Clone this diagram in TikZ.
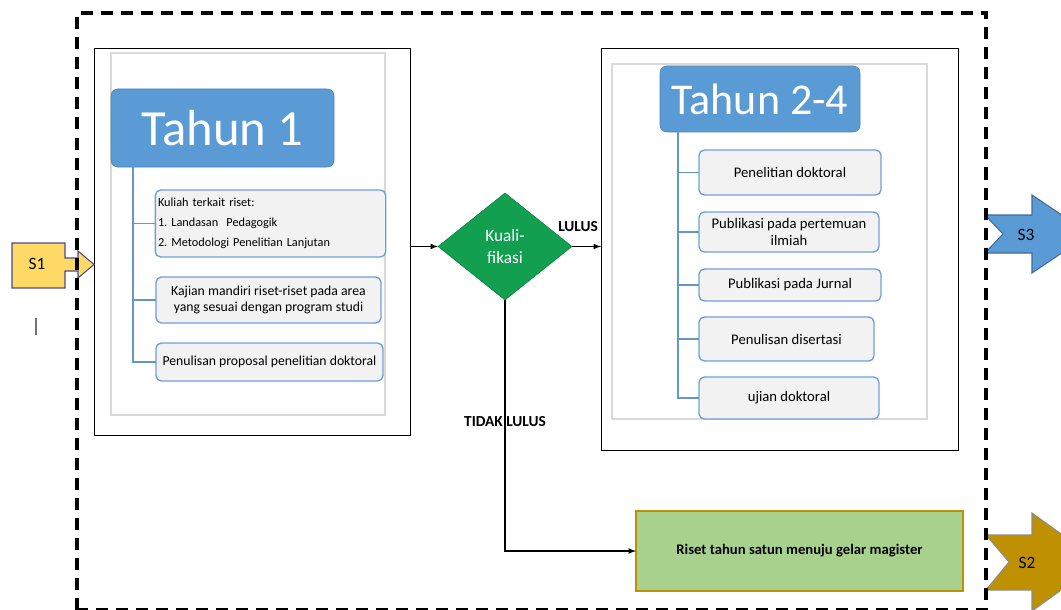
\documentclass[tikz,border=0pt]{standalone}
\usepackage{fontspec}
\setmainfont{Carlito}
\frenchspacing
\usetikzlibrary{arrows,shapes.geometric}
\newlength\pxu
\setlength\pxu{0.75pt}
\definecolor{hdrblue}{RGB}{91,155,213}
\definecolor{itemblue}{RGB}{110,160,215}
\definecolor{itemgray}{RGB}{242,242,242}
\definecolor{treeblue}{RGB}{100,150,200}
\definecolor{kualgreen}{RGB}{18,160,80}
\definecolor{maggreen}{RGB}{169,209,142}
\definecolor{gold}{RGB}{191,144,0}
\definecolor{sone}{RGB}{255,217,102}
\tikzset{
  frame/.style={draw=black, line width=0.7pt, outer sep=0pt},
  inframe/.style={draw=black!15, line width=0.8pt, outer sep=0pt},
  header/.style={fill=hdrblue, draw=hdrblue!85!black, rounded corners=5pt, text=white, inner sep=0pt, outer sep=0pt},
  item/.style={draw=itemblue, fill=itemgray, rounded corners=4pt, line width=1pt, inner sep=2pt, outer sep=0pt, align=center, font=\fontsize{11}{13}\selectfont},
  tree/.style={draw=treeblue, line width=1.2pt},
  flow/.style={-latex, line width=0.9pt},
  lbl/.style={font=\bfseries\fontsize{11.5}{13}\selectfont},
  stxt/.style={font=\fontsize{13}{15}\selectfont}
}

\begin{document}
\begin{tikzpicture}[x=\pxu, y=-\pxu]
  \useasboundingbox (0,0) rectangle (1061,610);
  \clip (0,0) rectangle (1061,610);

  % Tahun 1
  \node[frame, minimum width=316\pxu, minimum height=387\pxu] (yr1) at (252,241.5) {};
  \node[inframe, minimum width=274\pxu, minimum height=362\pxu] (in1) at (248,234) {};
  \node[header, minimum width=223\pxu, minimum height=78\pxu, font=\fontsize{38}{40}\selectfont] (head1) at (222.5,128) {Tahun 1};
  \coordinate (trunk1) at (133,167);
  \node[item, minimum width=229\pxu, minimum height=67\pxu, text width=225\pxu, align=left, font=\fontsize{9.2}{15}\selectfont] (k1) at (270.5,223.5) {Kuliah terkait riset:\\1. Landasan\ \ Pedagogik\\2. Metodologi Penelitian Lanjutan};
  \node[item, minimum width=225\pxu, minimum height=46\pxu, font=\fontsize{10.3}{12.5}\selectfont] (k2) at (268.5,300) {Kajian mandiri riset-riset pada area\\yang sesuai dengan program studi};
  \node[item, minimum width=227\pxu, minimum height=38\pxu, font=\fontsize{10.3}{12.5}\selectfont] (k3) at (269.5,362) {Penulisan proposal penelitian doktoral};
  \foreach \k in {k1,k2,k3}
    \draw[tree] (trunk1) |- (\k.west);

  % Tahun 2-4
  \node[frame, minimum width=357\pxu, minimum height=402\pxu] (yr2) at (779.5,249) {};
  \node[inframe, minimum width=315\pxu, minimum height=355\pxu] (in2) at (769.5,241.5) {};
  \node[header, minimum width=200\pxu, minimum height=66\pxu, font=\fontsize{33}{35}\selectfont] (head2) at (760,99) {Tahun 2-4};
  \coordinate (trunk2) at (678,132);
  \node[item, minimum width=182\pxu, minimum height=45\pxu] (p1) at (790,172.5) {Penelitian doktoral};
  \node[item, minimum width=180\pxu, minimum height=40\pxu] (p2) at (789,232) {Publikasi pada pertemuan\\ilmiah};
  \node[item, minimum width=182\pxu, minimum height=32\pxu] (p3) at (790,285) {Publikasi pada Jurnal};
  \node[item, minimum width=175\pxu, minimum height=44\pxu] (p4) at (786.5,339) {Penulisan disertasi};
  \node[item, minimum width=180\pxu, minimum height=42\pxu] (p5) at (789,398) {ujian doktoral};
  \foreach \p in {p1,p2,p3,p4,p5}
    \draw[tree] (trunk2) |- (\p.west);

  % kualifikasi
  \node[diamond, fill=kualgreen, draw=kualgreen!80!black, text=white, inner sep=0pt, outer sep=0pt, minimum width=134\pxu, minimum height=107\pxu, align=center, font=\fontsize{13}{17}\selectfont] (kual) at (505,246.5) {Kuali-\\fikasi};
  \node[draw=gold, fill=maggreen, line width=1pt, outer sep=0pt, minimum width=327\pxu, minimum height=80\pxu, font=\bfseries\fontsize{11}{13}\selectfont] (mag) at (799.5,551) {Riset tahun satun menuju gelar magister};
  \node[lbl] (lulus) at (578,227) {LULUS};
  \node[lbl] (tidak) at (505,422) {TIDAK LULUS};
  \draw[flow] (yr1.east |- kual.west) -- (kual.west);
  \draw[flow] (kual.east) -- (yr2.west |- kual.east);
  \draw[flow] (kual.south) |- (mag.west);

  % S1, S2, S3
  \draw[fill=sone, draw=black!45!blue!40!gray, line width=0.8pt] (12,243) -- (65,243) -- (65,258) -- (78,258) -- (78,251) -- (94,264.5) -- (78,278) -- (78,271) -- (65,271) -- (65,288) -- (12,288) -- cycle;
  \node[stxt] (s1) at (37,264) {S1};
  \draw[fill=hdrblue, draw=hdrblue!70!black, line width=0.8pt] (985,215) -- (1032,215) -- (1032,195) -- (1090,234) -- (1032,273) -- (1032,253) -- (985,253) -- (1003,234) -- cycle;
  \node[stxt] (s3) at (1026,235) {S3};
  \draw[fill=gold, draw=black!45, line width=0.8pt] (986,535) -- (1032,535) -- (1032,513) -- (1100,562) -- (1032,611) -- (1032,590) -- (986,590) -- (1009,562) -- cycle;
  \node[stxt] (s2) at (1027,563) {S2};
  \draw[black!55, line width=0.8pt] (36,318) -- (36,335);

  % outer dashed boundary
  \draw[line width=2.3pt, dash pattern=on 9pt off 6pt] (77,609.5) -- (77,13) -- (986,13) -- (986,609.5) -- cycle;
\end{tikzpicture}
\end{document}
